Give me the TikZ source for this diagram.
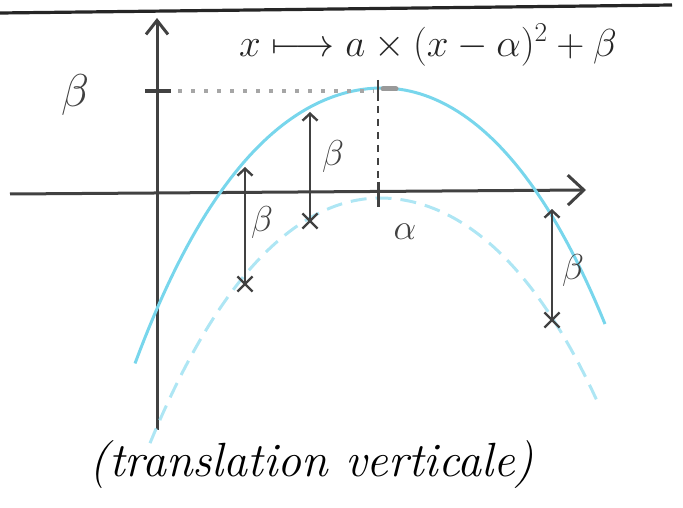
\RequirePackage{fix-cm}
\documentclass[tikz,border=0pt]{standalone}
\usepackage{fontspec}
\usepackage{amsmath}
\usetikzlibrary{arrows.meta,shapes.misc}
\definecolor{pencil}{RGB}{65,65,65}
\definecolor{cyanline}{RGB}{120,214,236}
\begin{document}
\begin{tikzpicture}[x=1pt,y=-1pt,
  axis/.style={draw=pencil, line width=3pt},
  curve/.style={draw=cyanline, line width=3pt},
  dcurve/.style={draw=cyanline!60, line width=3pt, dash pattern=on 16pt off 9pt},
  barrow/.style={draw=pencil, line width=2.4pt, -{Straight Barb[length=7pt,width=15pt,line width=2.4pt]}},
  lab/.style={text=pencil, font=\fontsize{36}{42}\selectfont, inner sep=0pt},
  biglab/.style={text=pencil, font=\fontsize{46}{52}\selectfont, inner sep=0pt},
  crossmark/.style={draw=pencil, cross out, minimum size=13pt, inner sep=0pt, line width=2.2pt}
]
\useasboundingbox (0,0) rectangle (683,508);
% top rule
\coordinate (rl) at (0,13);
\coordinate (rr) at (672,5);
\draw[draw=black!85, line width=3.2pt] (rl) -- (rr);
% axes
\coordinate (yb) at (157,430);
\coordinate (yt) at (157,18);
\coordinate (xl) at (10,194);
\coordinate (xr) at (586,190);
\draw[axis, -{Straight Barb[length=14pt,width=22pt,line width=3pt]}] (yb) -- (yt);
\draw[axis, -{Straight Barb[length=16pt,width=30pt,line width=3pt]}] (xl) -- (xr);
% curves
\draw[curve] plot[domain=135:605, samples=100]
  (\x, {88 + ((\x<382) ? 36 : 40)*((\x-382)/100)^2 + 1.5*((\x-382)/100)^4});
\draw[dcurve] plot[domain=150:597, samples=100]
  (\x, {198 + ((\x<380) ? 40 : 36)*((\x-380)/100)^2 + ((\x<380) ? 1.2 : 1.5)*((\x-380)/100)^4});
% beta level on y-axis, dotted guide
\coordinate (bt1) at (145,91);
\coordinate (bt2) at (171,91);
\draw[axis, line width=4pt] (bt1) -- (bt2);
\coordinate (dg1) at (178,91);
\coordinate (dg2) at (374,91);
\draw[draw=gray!70, line width=3.4pt, dash pattern=on 4pt off 9pt] (dg1) -- (dg2);
\coordinate (vx1) at (383,89);
\coordinate (vx2) at (396,89);
\draw[draw=gray!80, line width=5pt, line cap=round] (vx1) -- (vx2);
% alpha guide
\coordinate (at1) at (378,80);
\coordinate (at2) at (378,101);
\draw[axis, line width=2.2pt] (at1) -- (at2);
\coordinate (ad1) at (378,106);
\coordinate (ad2) at (378,182);
\draw[axis, line width=1.8pt, dash pattern=on 7pt off 6pt] (ad1) -- (ad2);
\coordinate (ax1) at (378,182);
\coordinate (ax2) at (378,207);
\draw[axis] (ax1) -- (ax2);
% translation arrows
\node[crossmark] (c1) at (245,284) {};
\coordinate (t1) at (245,167);
\draw[barrow] (c1.center) -- (t1);
\node[crossmark] (c2) at (310,221) {};
\coordinate (t2) at (310,112);
\draw[barrow] (c2.center) -- (t2);
\node[crossmark] (c3) at (552,320) {};
\coordinate (t3) at (552,209);
\draw[barrow] (c3.center) -- (t3);
% labels
\node[lab] (b1) at (262,222) {$\beta$};
\node[lab] (b2) at (333,157) {$\beta$};
\node[lab] (b3) at (573,270) {$\beta$};
\node[biglab] (b0) at (75,95) {$\beta$};
\node[lab] (al) at (405,232) {$\alpha$};
\node[text=black!85, font=\fontsize{39}{46}\selectfont, inner sep=0pt] (f) at (428,45) {$x \longmapsto a \times (x - \alpha)^2 + \beta$};
\node[text=black, font=\fontsize{48}{56}\selectfont\itshape, inner sep=0pt] (cap) at (312,465) {(translation verticale)};
\end{tikzpicture}
\end{document}
